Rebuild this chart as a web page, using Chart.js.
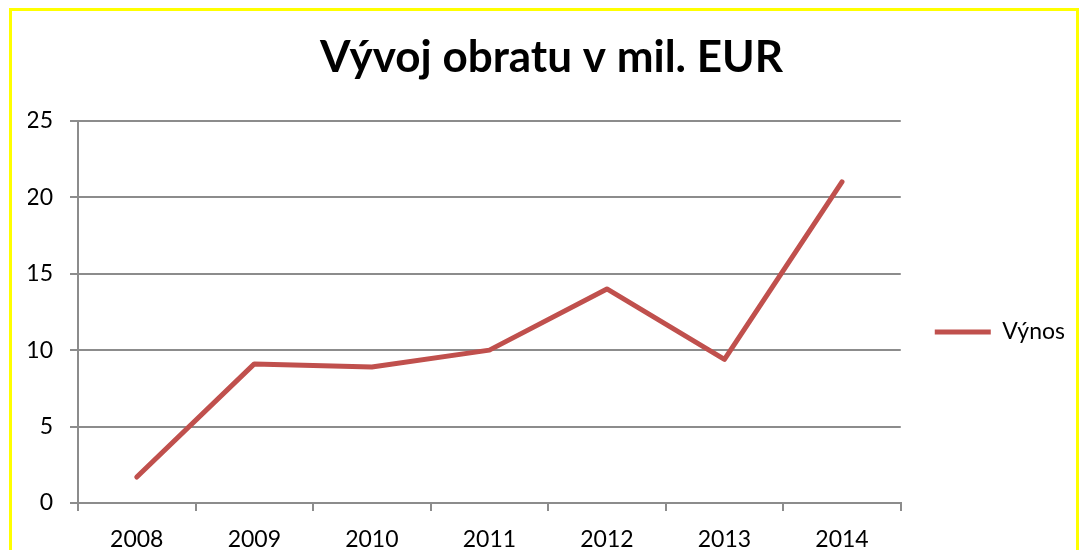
<!DOCTYPE html>
<html>
<head>
<meta charset="utf-8">
<script src="https://cdn.jsdelivr.net/npm/chart.js@4"></script>
<style>
  html, body { margin: 0; padding: 0; background: #fff; overflow: hidden; }
  #frame {
    position: absolute; left: 9px; top: 8px; width: 1064px; height: 600px;
    border: 3px solid #ffff00; pointer-events: none;
  }
  #wrap { position: absolute; left: 0; top: 0; width: 1079px; height: 550px; }
</style>
</head>
<body>
<div id="wrap"><canvas id="chart"></canvas></div>
<div id="frame"></div>
<script>
// data
const roky = ['2008', '2009', '2010', '2011', '2012', '2013', '2014'];
const vynos = [1.7, 9.1, 8.9, 10.0, 14.0, 9.4, 21.0];
const nazevGrafu = 'Vývoj obratu v mil. EUR';
const nazevRady = 'Výnos';

const sedaMriz = '#8c8c8c';
const cervena = '#c0504d';
const pismo = 'Lato';

new Chart(document.getElementById('chart'), {
    type: 'line',
    data: {
        labels: roky,
        datasets: [{
            label: nazevRady,
            data: vynos,
            borderColor: cervena,
            backgroundColor: cervena,
            borderWidth: 5,
            borderCapStyle: 'round',
            borderJoinStyle: 'round',
            pointRadius: 0,
            pointHoverRadius: 0,
            tension: 0
        }]
    },
    options: {
        responsive: true,
        maintainAspectRatio: false,
        animation: false,
        layout: { padding: { left: 28, right: 4, top: 0, bottom: 0 } },
        plugins: {
            title: {
                display: true,
                text: nazevGrafu,
                color: '#000',
                font: { family: pismo, size: 44, weight: 'bold' },
                padding: { top: 31, bottom: 37 }
            },
            legend: {
                position: 'right',
                // prázdný titulek legendy jen posune položku dolů
                title: {
                    display: true,
                    text: ' ',
                    font: { size: 10 },
                    padding: { top: 0, bottom: 102 }
                },
                labels: {
                    usePointStyle: true,
                    pointStyle: 'line',
                    pointStyleWidth: 56,
                    color: '#000',
                    font: { family: pismo, size: 23 },
                    padding: 34
                }
            },
            tooltip: { enabled: false }
        },
        scales: {
            x: {
                offset: true,
                grid: {
                    offset: true,
                    drawOnChartArea: false,
                    drawTicks: true,
                    tickLength: 8,
                    color: sedaMriz,
                    lineWidth: 2
                },
                border: { display: true, color: sedaMriz, width: 2 },
                ticks: { color: '#000', font: { family: pismo, size: 23 }, padding: 15, maxRotation: 0 },
                afterFit: s => { s.height = 47; }
            },
            y: {
                min: 0,
                max: 25,
                ticks: { stepSize: 5, color: '#000', font: { family: pismo, size: 23 }, padding: 17 },
                grid: { color: sedaMriz, lineWidth: 2, tickLength: 8 },
                border: { display: true, color: sedaMriz, width: 2 },
                afterFit: s => { s.width = 50; }
            }
        }
    }
});
</script>
</body>
</html>
